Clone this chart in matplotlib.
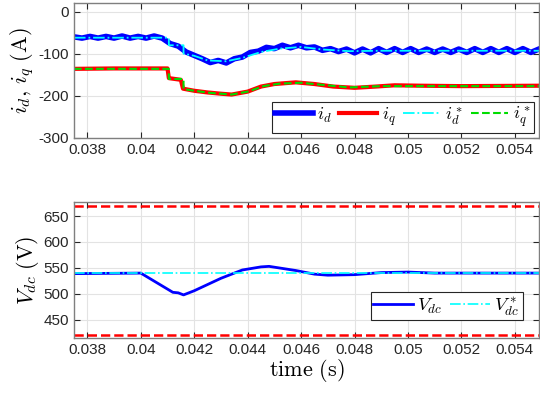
import numpy as np
import matplotlib
matplotlib.use("Agg")
import matplotlib.pyplot as plt

plt.rcParams['font.family'] = ['Liberation Sans', 'DejaVu Sans']
plt.rcParams['mathtext.fontset'] = 'cm'
plt.rcParams['axes.unicode_minus'] = False

id_start = 0.0375
id_step = 0.0003
id_vals = [-60, -63, -59, -63, -59, -63, -58, -63, -59, -63, -58, -63,
           -76, -82, -96, -104, -112, -121, -116, -122, -112, -108, -97, -94,
           -85, -88, -80, -86, -80, -86, -84, -92, -88, -95, -89, -98,
           -89, -98, -88, -97, -88, -97, -88, -97, -89, -97, -89, -97,
           -89, -97, -88, -97, -88, -97, -88, -97, -88, -97, -89]

# d-axis reference
idref_t = [0.0375, 0.04105, 0.04105, 0.0416, 0.0416, 0.0420, 0.0425, 0.0432,
           0.0438, 0.0445, 0.0452, 0.0460, 0.0468, 0.0478, 0.0490, 0.0549]
idref_v = [-62, -62, -80, -80, -100, -105, -116, -118,
           -110, -96, -88, -84, -90, -94, -93, -93]

# q-axis current
iq_t = [0.0375, 0.0390, 0.0410, 0.04105, 0.0415, 0.04158, 0.0420, 0.0425,
        0.0430, 0.0434, 0.0440, 0.0445, 0.0450, 0.0458, 0.0465, 0.0472,
        0.0480, 0.0488, 0.0495, 0.0505, 0.0520, 0.0549]
iq_v = [-136, -135, -135, -158, -162, -183, -188, -192,
        -195, -197, -190, -178, -172, -168, -172, -178,
        -181, -178, -175, -176, -177, -176]

# q-axis reference
iqref_t = [0.0375, 0.04105, 0.04105, 0.0416, 0.0416, 0.0420, 0.0426, 0.0434,
           0.0440, 0.0446, 0.0452, 0.0460, 0.0468, 0.0478, 0.0490, 0.0549]
iqref_v = [-136, -136, -160, -160, -184, -188, -193, -197,
           -190, -177, -171, -169, -174, -180, -177, -177]

# DC-link voltage
vdc_t = [0.0375, 0.0400, 0.0412, 0.0414, 0.0416, 0.0420, 0.0430, 0.0438,
         0.0445, 0.0448, 0.0458, 0.0465, 0.0470, 0.0480, 0.0490, 0.0500,
         0.0510, 0.0549]
vdc_v = [539, 540, 503, 502, 498, 506, 530, 546,
         552, 553, 545, 538, 536, 537, 541, 542,
         540, 540]
vdc_ref = 540
vdc_lim = [420, 670]

xticks = [0.038, 0.04, 0.042, 0.044, 0.046, 0.048, 0.05, 0.052, 0.054]
xlabels = ['0.038', '0.04', '0.042', '0.044', '0.046', '0.048', '0.05', '0.052', '0.054']

t_id = id_start + id_step * np.arange(len(id_vals))

fig = plt.figure(figsize=(5.4, 3.93), dpi=100)
ax1 = fig.add_axes([0.137, 0.649, 0.861, 0.343])
ax2 = fig.add_axes([0.137, 0.140, 0.861, 0.346])


def style(ax):
    ax.set_xlim(0.0375, 0.0549)
    ax.set_xticks(xticks)
    ax.set_xticklabels(xlabels)
    ax.tick_params(direction='in', top=True, right=True, labelsize=11,
                   colors='#262626', length=4)
    ax.grid(True, color='#e3e3e3', linewidth=0.8)
    ax.set_axisbelow(True)
    for s in ax.spines.values():
        s.set_color('#7f7f7f')
        s.set_linewidth(1.0)


ax1.plot(t_id, id_vals, color='#0000ff', linewidth=4, label='$i_d$')
ax1.plot(iq_t, iq_v, color='#ff0000', linewidth=3, label='$i_q$')
ax1.plot(idref_t, idref_v, color='#00ffff', linestyle='-.', linewidth=1.3, label='$i_d^*$')
ax1.plot(iqref_t, iqref_v, color='#00dd00', linestyle='--', linewidth=1.5, label='$i_q^*$')
style(ax1)
ax1.set_ylim(-300, 20)
ax1.set_yticks([0, -100, -200, -300])
ax1.set_ylabel(r'$i_d,\, i_q\ \mathrm{(A)}$', fontsize=16, labelpad=2)
leg1 = ax1.legend(loc='lower right', ncol=4, fontsize=13, handlelength=2.1,
                  columnspacing=0.4, handletextpad=0.25, borderpad=0.15,
                  borderaxespad=0.3, labelspacing=0.2,
                  fancybox=False, framealpha=1, edgecolor='#262626')
leg1.get_frame().set_linewidth(0.8)

ax2.plot(vdc_t, vdc_v, color='#0000ff', linewidth=2, label='$V_{dc}$')
ax2.axhline(vdc_ref, color='#00ffff', linestyle='-.', linewidth=1.2, label='$V_{dc}^*$')
for v in vdc_lim:
    ax2.axhline(v, color='#ff0000', linestyle='--', linewidth=1.8)
style(ax2)
ax2.set_ylim(415, 677)
ax2.set_yticks([450, 500, 550, 600, 650])
ax2.set_ylabel(r'$V_{dc}\ \mathrm{(V)}$', fontsize=16, labelpad=2)
ax2.set_xlabel(r'$\mathrm{time\ (s)}$', fontsize=16, labelpad=0)
leg2 = ax2.legend(loc='lower right', ncol=2, fontsize=13.5, handlelength=2.1,
                  columnspacing=0.4, handletextpad=0.25, borderpad=0.15,
                  fancybox=False, framealpha=1, edgecolor='#262626',
                  bbox_to_anchor=(0.985, 0.06))
leg2.get_frame().set_linewidth(0.8)

fig.savefig('out.png', dpi=100)
